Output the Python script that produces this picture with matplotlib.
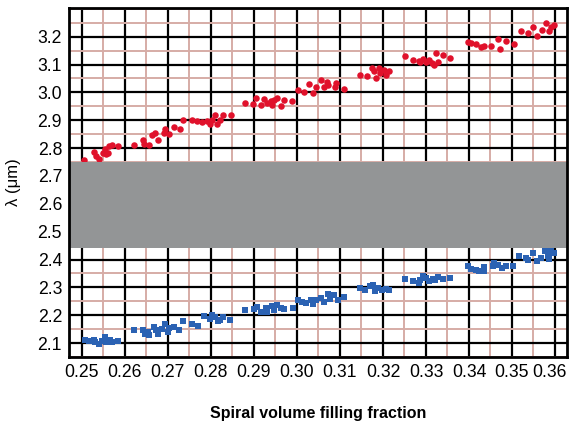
import matplotlib
matplotlib.use("Agg")
import matplotlib.pyplot as plt
from matplotlib.ticker import MultipleLocator, FixedLocator
from matplotlib.transforms import ScaledTranslation

plt.rcParams['font.family'] = ['Liberation Sans', 'DejaVu Sans']

# upper band edge (red dots)
red_x = [0.2504, 0.2529, 0.2533, 0.2539, 0.2549, 0.2553, 0.2556, 0.2560, 0.2562, 0.2571,
         0.2585, 0.2620, 0.2643, 0.2645, 0.2655, 0.2664, 0.2669, 0.2678, 0.2690, 0.2694,
         0.2702, 0.2713, 0.2727, 0.2735, 0.2756, 0.2767, 0.2779, 0.2791, 0.2798, 0.2802,
         0.2810, 0.2814, 0.2822, 0.2828, 0.2847,
         0.2880, 0.2898, 0.2904, 0.2916, 0.2923, 0.2930, 0.2939, 0.2943, 0.2947, 0.2953,
         0.2963, 0.2970, 0.2988, 0.3003, 0.3017, 0.3029, 0.3037, 0.3045, 0.3055, 0.3064,
         0.3070, 0.3073, 0.3088, 0.3091, 0.3109, 0.3146, 0.3162, 0.3175, 0.3180, 0.3183,
         0.3191, 0.3193, 0.3203, 0.3207, 0.3214, 0.3252, 0.3269, 0.3287,
         0.3284, 0.3292, 0.3300, 0.3308, 0.3313, 0.3319, 0.3323, 0.3327, 0.3339, 0.3357,
         0.3398, 0.3405, 0.3416, 0.3428, 0.3434, 0.3451, 0.3468, 0.3473, 0.3486, 0.3504,
         0.3521, 0.3538, 0.3550, 0.3558, 0.3569, 0.3579, 0.3585, 0.3591, 0.3597]
red_y = [2.759, 2.787, 2.773, 2.761, 2.782, 2.796, 2.779, 2.782, 2.808, 2.812,
         2.808, 2.811, 2.829, 2.814, 2.812, 2.846, 2.853, 2.829, 2.855, 2.867,
         2.852, 2.876, 2.869, 2.902, 2.902, 2.896, 2.893, 2.896, 2.888, 2.902,
         2.920, 2.888, 2.900, 2.920, 2.918,
         2.961, 2.958, 2.979, 2.955, 2.975, 2.961, 2.970, 2.955, 2.973, 2.979,
         2.952, 2.973, 2.969, 3.008, 3.002, 3.029, 2.999, 3.020, 3.046, 3.020,
         3.038, 3.026, 3.020, 3.035, 3.014, 3.064, 3.058, 3.089, 3.077, 3.052,
         3.086, 3.071, 3.082, 3.064, 3.077, 3.130, 3.118, 3.110,
         3.113, 3.121, 3.109, 3.118, 3.106, 3.098, 3.141, 3.109, 3.136, 3.125,
         3.182, 3.176, 3.174, 3.162, 3.168, 3.168, 3.192, 3.156, 3.184, 3.174,
         3.219, 3.212, 3.235, 3.204, 3.224, 3.251, 3.221, 3.235, 3.242]

# lower band edge (blue squares)
blue_x = [0.2506, 0.2516, 0.2527, 0.2531, 0.2540, 0.2547, 0.2553, 0.2556, 0.2566, 0.2571,
          0.2585, 0.2620, 0.2641, 0.2647, 0.2653, 0.2657, 0.2667, 0.2672, 0.2678, 0.2686,
          0.2694, 0.2700, 0.2703, 0.2713, 0.2726, 0.2736, 0.2756, 0.2770, 0.2785, 0.2798,
          0.2802, 0.2810, 0.2816, 0.2822, 0.2828, 0.2845,
          0.2880, 0.2900, 0.2906, 0.2917, 0.2927, 0.2931, 0.2941, 0.2947, 0.2953, 0.2963,
          0.2970, 0.2990, 0.3003, 0.3011, 0.3021, 0.3033, 0.3037, 0.3045, 0.3056, 0.3063,
          0.3073, 0.3077, 0.3087, 0.3095, 0.3109, 0.3146, 0.3159, 0.3169, 0.3177, 0.3181,
          0.3188, 0.3197, 0.3206, 0.3214, 0.3252, 0.3269, 0.3287,
          0.3284, 0.3292, 0.3300, 0.3308, 0.3316, 0.3321, 0.3327, 0.3339, 0.3357,
          0.3398, 0.3405, 0.3416, 0.3424, 0.3434, 0.3436, 0.3455, 0.3459, 0.3468, 0.3476,
          0.3486, 0.3502, 0.3517, 0.3533, 0.3538, 0.3548, 0.3558, 0.3567, 0.3577, 0.3583,
          0.3587, 0.3591, 0.3597]
blue_y = [2.112, 2.106, 2.112, 2.104, 2.095, 2.107, 2.122, 2.104, 2.112, 2.104,
          2.107, 2.146, 2.148, 2.134, 2.140, 2.130, 2.158, 2.146, 2.134, 2.152,
          2.167, 2.140, 2.155, 2.158, 2.146, 2.178, 2.170, 2.160, 2.196, 2.188,
          2.200, 2.194, 2.178, 2.182, 2.192, 2.184,
          2.219, 2.222, 2.231, 2.213, 2.225, 2.213, 2.234, 2.219, 2.237, 2.225,
          2.222, 2.225, 2.255, 2.249, 2.243, 2.255, 2.241, 2.253, 2.261, 2.249,
          2.277, 2.258, 2.273, 2.255, 2.264, 2.298, 2.289, 2.304, 2.310, 2.286,
          2.298, 2.292, 2.294, 2.289, 2.330, 2.322, 2.328,
          2.316, 2.340, 2.334, 2.322, 2.330, 2.325, 2.337, 2.330, 2.334,
          2.376, 2.366, 2.364, 2.358, 2.373, 2.358, 2.376, 2.388, 2.382, 2.370,
          2.378, 2.376, 2.412, 2.406, 2.400, 2.422, 2.394, 2.406, 2.430, 2.414,
          2.402, 2.430, 2.422]

# photonic band gap
gap_lo, gap_hi = 2.44, 2.75

x_ticks = [0.25, 0.26, 0.27, 0.28, 0.29, 0.30, 0.31, 0.32, 0.33, 0.34, 0.35, 0.36]
y_ticks = [2.1, 2.2, 2.3, 2.4, 2.5, 2.6, 2.7, 2.8, 2.9, 3.0, 3.1, 3.2]

fig = plt.figure(figsize=(5.69, 4.22), dpi=100)
ax = fig.add_axes([0.1213, 0.154, 0.8752, 0.827])

ax.set_xlim(0.247, 0.3628)
ax.set_ylim(2.05, 3.303)

ax.xaxis.set_major_locator(FixedLocator(x_ticks))
ax.yaxis.set_major_locator(FixedLocator(y_ticks))
ax.xaxis.set_minor_locator(MultipleLocator(0.005))
ax.yaxis.set_minor_locator(MultipleLocator(0.05))
ax.set_xticklabels([f"{v:.2f}" for v in x_ticks])
ax.set_yticklabels([f"{v:.1f}" for v in y_ticks])

ax.set_axisbelow(True)
ax.grid(which='minor', color='#d6aca6', lw=1.4, zorder=0)
ax.grid(which='major', color='black', lw=1.6, zorder=0.5)

ax.scatter(red_x, red_y, s=22, c='#e0112b', marker='o', linewidths=0, zorder=2)
ax.scatter(blue_x, blue_y, s=15, c='#2b62b3', marker='s', linewidths=0, zorder=2)

ax.axhspan(gap_lo, gap_hi, color='#939596', lw=0, zorder=3)

for s in ax.spines.values():
    s.set_linewidth(2)
    s.set_zorder(4)

ax.tick_params(which='both', length=0, labelsize=12.7, pad=5)
ax.set_xlabel('Spiral volume filling fraction', fontsize=11.5, fontweight='bold', labelpad=18)
ax.set_ylabel('λ (μm)', fontsize=12, labelpad=12)

# nudge the last x label left so it stays inside the figure
fig.canvas.draw()
last = ax.get_xticklabels()[-1]
last.set_transform(last.get_transform() + ScaledTranslation(-4 / 72, 0, fig.dpi_scale_trans))

fig.savefig('out.png', dpi=100)
